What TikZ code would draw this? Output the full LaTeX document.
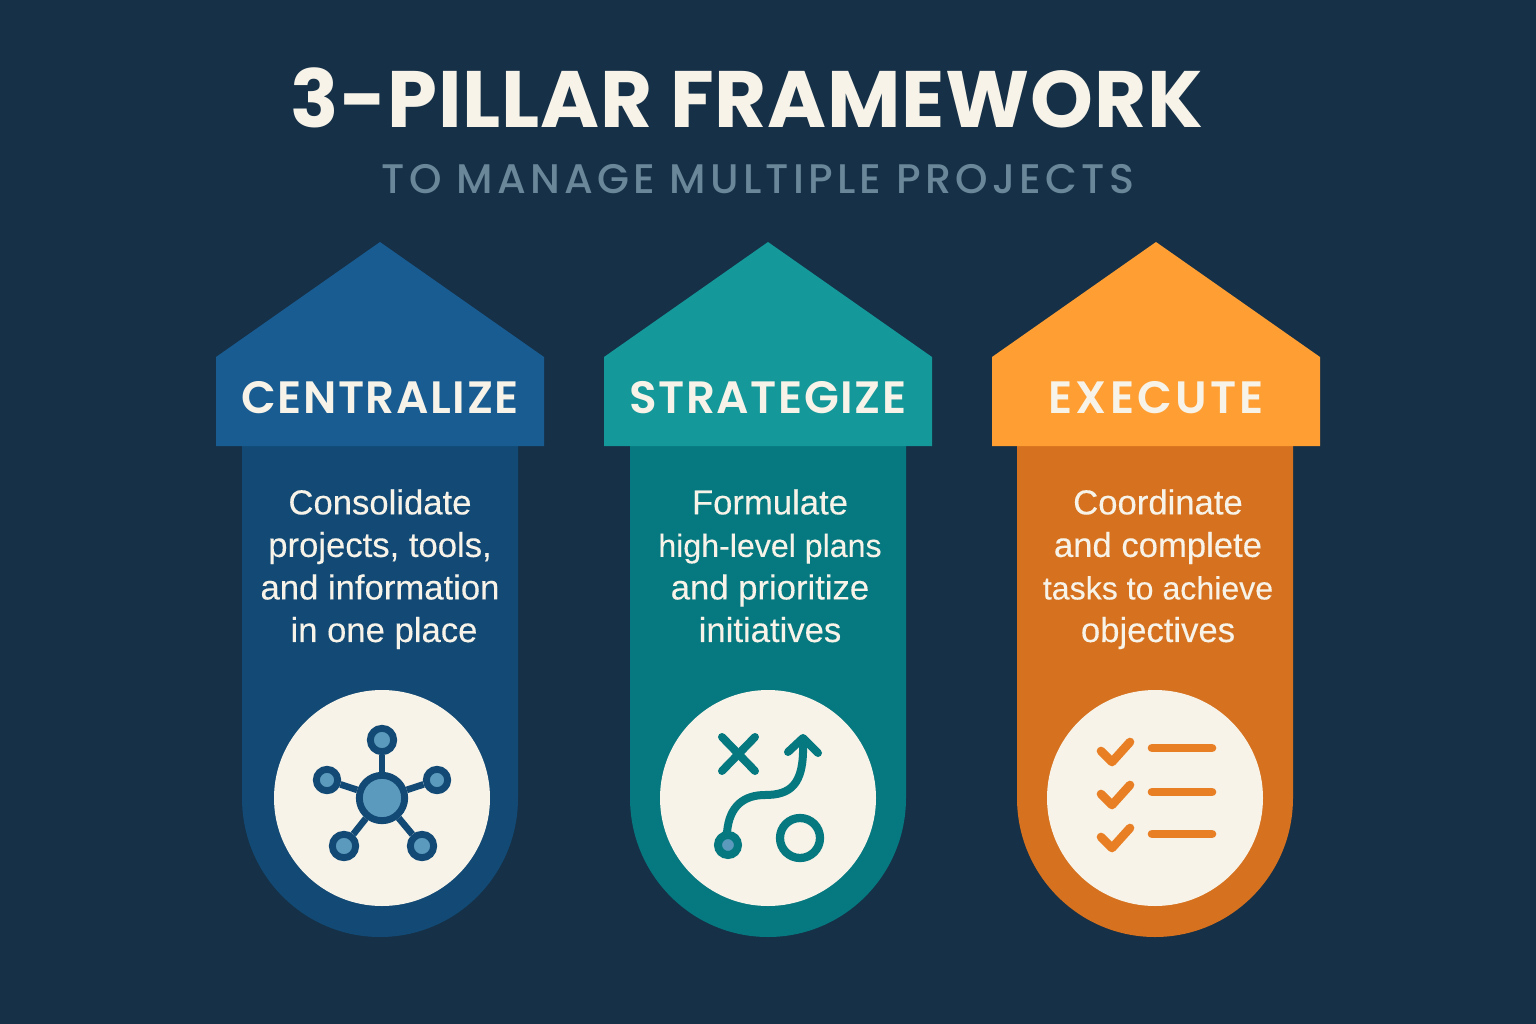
\documentclass[tikz,border=0pt]{standalone}
\usepackage{fontspec}
\setmainfont[FakeBold=0.25]{Liberation Sans}
\newfontfamily\titlefont[LetterSpace=1]{Poppins}
\newfontfamily\subfont[LetterSpace=10.2]{Poppins Medium}
\newfontfamily\headfont[LetterSpace=3.5]{Poppins SemiBold}
\newcommand{\slimline}[1]{{\fontsize{24.1}{31.9}\selectfont #1}}
\definecolor{bgnavy}{HTML}{153047}
\definecolor{creamfill}{HTML}{F7F3E9}
\definecolor{subgrey}{HTML}{6A8799}
\definecolor{bluehead}{HTML}{185C92}
\definecolor{bluebody}{HTML}{124A75}
\definecolor{bluedot}{HTML}{5C9ABD}
\definecolor{tealhead}{HTML}{14989A}
\definecolor{tealbody}{HTML}{067980}
\definecolor{orangehead}{HTML}{FF9F33}
\definecolor{orangebody}{HTML}{D6721F}
\definecolor{orangeicon}{HTML}{E87F24}
\tikzset{
    headlabel/.style={text=creamfill,font=\headfont\fontsize{34}{34}\selectfont},
    bodylabel/.style={text=creamfill,align=center,font=\fontsize{26}{31.9}\selectfont,
        execute at begin node=\strut,execute at end node=\strut},
    disc/.style={circle,fill=creamfill,minimum size=162pt,inner sep=0pt},
    hubnode/.style={circle,draw=bluebody,fill=bluedot,line width=5.2pt,minimum size=#1,inner sep=0pt},
    tealstroke/.style={draw=tealbody,line width=6pt,line cap=round,line join=round},
    tickline/.style={draw=orangeicon,line width=6.5pt,line cap=round,line join=round}
}
\begin{document}
\begin{tikzpicture}[x=0.75pt,y=-0.75pt]
    \useasboundingbox[fill=bgnavy] (0,0) rectangle (1536,1024);
    \node[text=creamfill,font=\titlefont\bfseries\fontsize{60}{60}\selectfont] (title) at (747,98) {3-PILLAR FRAMEWORK};
    \node[text=subgrey,font=\subfont\fontsize{31}{31}\selectfont] (subtitle) at (758,179) {TO MANAGE MULTIPLE PROJECTS};
    % pillars
    \foreach \px/\bx/\tx/\name/\hcol/\bcol/\word/\lines in {
        380/380/380/central/bluehead/bluebody/CENTRALIZE/{Consolidate\\projects, tools,\\and information\\\hspace*{6pt}in one place},
        768/768/770/strategy/tealhead/tealbody/STRATEGIZE/{Formulate\\\slimline{high-level plans}\\and prioritize\\initiatives},
        1156/1155/1158/execute/orangehead/orangebody/{\addfontfeature{LetterSpace=7}EXECUTE}/{Coordinate\\and complete\\\slimline{tasks to achieve}\\objectives}} {
        \fill[\bcol] (\bx-138,440) -- (\bx+138,440) -- (\bx+138,798)
            arc[start angle=0,end angle=180,x radius=138,y radius=139] -- cycle;
        \fill[\hcol] (\px,242) -- (\px+164,357) -- (\px+164,446) -- (\px-164,446) -- (\px-164,357) -- cycle;
        \node[headlabel] (\name head) at (\px,398) {\word};
        \node[bodylabel] (\name text) at (\tx,572) {\lines};
    }
    \node[disc] (disc1) at (382,798) {};
    \node[disc] (disc2) at (768,798) {};
    \node[disc] (disc3) at (1155,798) {};
    % hub icon
    \node[hubnode=34pt] (hub) at (382,798) {};
    \node[hubnode=17.5pt] (sat1) at (382,740) {};
    \node[hubnode=16pt] (sat2) at (327,780) {};
    \node[hubnode=16pt] (sat3) at (437,780) {};
    \node[hubnode=17.5pt] (sat4) at (344,846) {};
    \node[hubnode=17.5pt] (sat5) at (422,846) {};
    \foreach \s in {1,...,5}
        \draw[bluebody,line width=5pt] (hub) -- (sat\s);
    % play icon
    \draw[tealstroke] (722,737) -- (755,771);
    \draw[tealstroke] (755,737) -- (722,771);
    \node[circle,draw=tealbody,line width=6.2pt,minimum size=30pt,inner sep=0pt] (ring) at (800,838) {};
    \node[circle,draw=tealbody,fill=bluedot,line width=6pt,minimum size=15pt,inner sep=0pt] (start) at (728,845) {};
    \draw[tealstroke] (start) -- (727,833) .. controls (729,805) and (745,795) .. (765,795)
        .. controls (790,795) and (804,785) .. (803,745);
    \draw[tealstroke] (788,752) -- (803,738) -- (818,753);
    % checklist icon
    \foreach \row/\dy/\ly in {1/0/748,2/43/792,3/86/834} {
        \draw[tickline] (1101,751+\dy) -- (1112,762+\dy) -- (1130,742+\dy);
        \coordinate (ls\row) at (1152,\ly);
        \coordinate (le\row) at (1212,\ly);
        \draw[tickline] (ls\row) -- (le\row);
    }
\end{tikzpicture}
\end{document}
